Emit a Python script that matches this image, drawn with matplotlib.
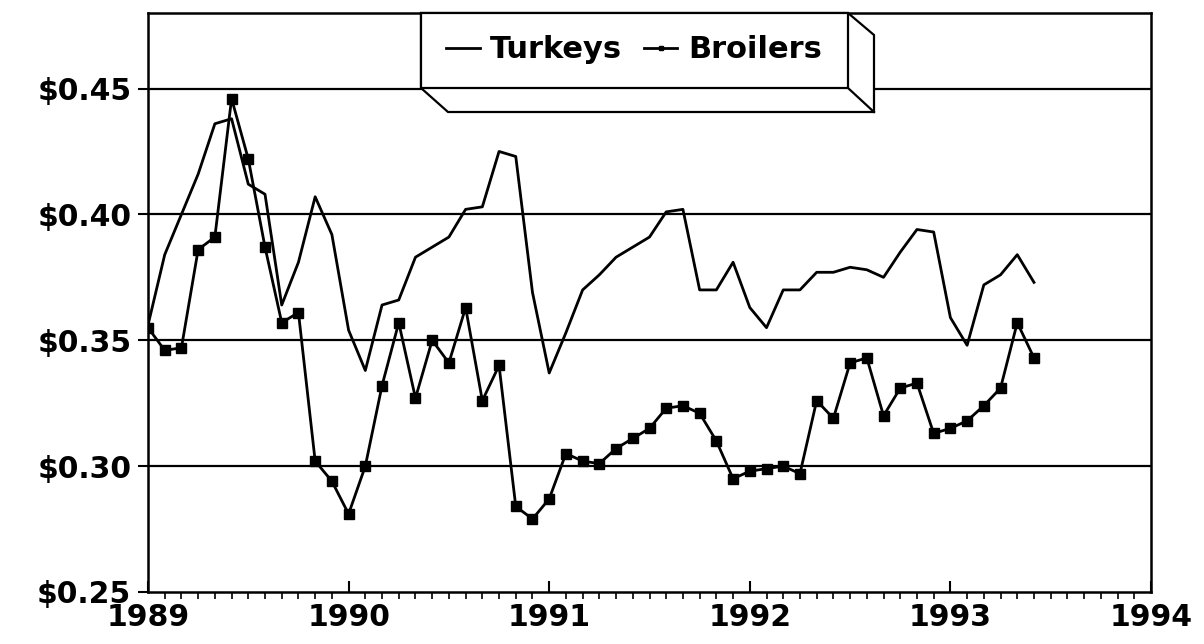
import matplotlib
matplotlib.use("Agg")
import matplotlib.pyplot as plt
from matplotlib.patches import Polygon
from matplotlib.lines import Line2D
import numpy as np

# monthly prices, Jan 1989 - Jun 1993
turkeys = [0.356, 0.384, 0.400, 0.416, 0.436, 0.438, 0.412, 0.408, 0.364, 0.381,
           0.407, 0.392, 0.354, 0.338, 0.364, 0.366, 0.383, 0.387, 0.391, 0.402,
           0.403, 0.425, 0.423, 0.369, 0.337, 0.353, 0.370, 0.376, 0.383, 0.387,
           0.391, 0.401, 0.402, 0.370, 0.370, 0.381, 0.363, 0.355, 0.370, 0.370,
           0.377, 0.377, 0.379, 0.378, 0.375, 0.385, 0.394, 0.393, 0.359, 0.348,
           0.372, 0.376, 0.384, 0.373]
broilers = [0.355, 0.346, 0.347, 0.386, 0.391, 0.446, 0.422, 0.387, 0.357, 0.361,
            0.302, 0.294, 0.281, 0.300, 0.332, 0.357, 0.327, 0.350, 0.341, 0.363,
            0.326, 0.340, 0.284, 0.279, 0.287, 0.305, 0.302, 0.301, 0.307, 0.311,
            0.315, 0.323, 0.324, 0.321, 0.310, 0.295, 0.298, 0.299, 0.300, 0.297,
            0.326, 0.319, 0.341, 0.343, 0.320, 0.331, 0.333, 0.313, 0.315, 0.318,
            0.324, 0.331, 0.357, 0.343]
years = [1989, 1990, 1991, 1992, 1993, 1994]
price_ticks = [0.25, 0.30, 0.35, 0.40, 0.45]
price_labels = ["\\$0.25", "\\$0.30", "\\$0.35", "\\$0.40", "\\$0.45"]

W, H = 1204, 644
fig = plt.figure(figsize=(W / 100, H / 100), dpi=100)
ax = fig.add_axes([148 / W, 1 - 592 / H, (1151 - 148) / W, (592 - 13) / H])

months = 1989 + np.arange(len(turkeys)) / 12
ax.plot(months, turkeys, color="black", lw=2, label="Turkeys", zorder=3)
ax.plot(months, broilers, color="black", lw=2, marker="s", ms=6.5,
        label="Broilers", zorder=3)

ax.set_xlim(1989, 1994)
ax.set_ylim(0.25, 0.48)
ax.set_yticks(price_ticks)
ax.set_yticklabels(price_labels)
ax.set_xticks(years)
ax.set_xticklabels([str(y) for y in years])
ax.set_xticks(1989 + np.arange(1, 60) / 12, minor=True)

for v in price_ticks[1:]:
    ax.axhline(v, color="black", lw=1.6, zorder=1)

for s in ax.spines.values():
    s.set_linewidth(1.8)

for lab in ax.get_yticklabels() + ax.get_xticklabels():
    lab.set_fontfamily("DejaVu Sans")
    lab.set_fontweight("bold")
    lab.set_fontsize(21.5)
ax.tick_params(axis="y", direction="out", length=7, width=1.5, pad=5)
ax.tick_params(axis="x", which="major", direction="in", length=8, width=1.5, pad=8)
ax.tick_params(axis="x", which="minor", direction="out", length=5, width=1.2)


# 3-D legend box drawn in pixel coordinates
def px(x, y):
    return (x / W, 1 - y / H)


outline = [px(421, 13), px(848, 13), px(874, 35), px(874, 112), px(448, 112), px(421, 88)]
fig.add_artist(Polygon(outline, closed=True, facecolor="white", edgecolor="black",
                       lw=1.6, transform=fig.transFigure, zorder=5))
fig.add_artist(Polygon([px(421, 13), px(848, 13), px(848, 88), px(421, 88)], closed=True,
                       facecolor="white", edgecolor="black", lw=1.6,
                       transform=fig.transFigure, zorder=5))
fig.add_artist(Line2D(*zip(px(848, 88), px(874, 112)), color="black", lw=1.6,
                      transform=fig.transFigure, zorder=5))

handles, labels = ax.get_legend_handles_labels()
leg = fig.legend(handles, labels, loc="center", bbox_to_anchor=px(634, 50), ncol=2,
                 frameon=False, handlelength=1.1, handletextpad=0.35, columnspacing=0.7,
                 markerscale=0.55, prop=dict(family="DejaVu Sans", weight="bold", size=22))
leg.set_zorder(6)

fig.savefig("out.png", dpi=100)
